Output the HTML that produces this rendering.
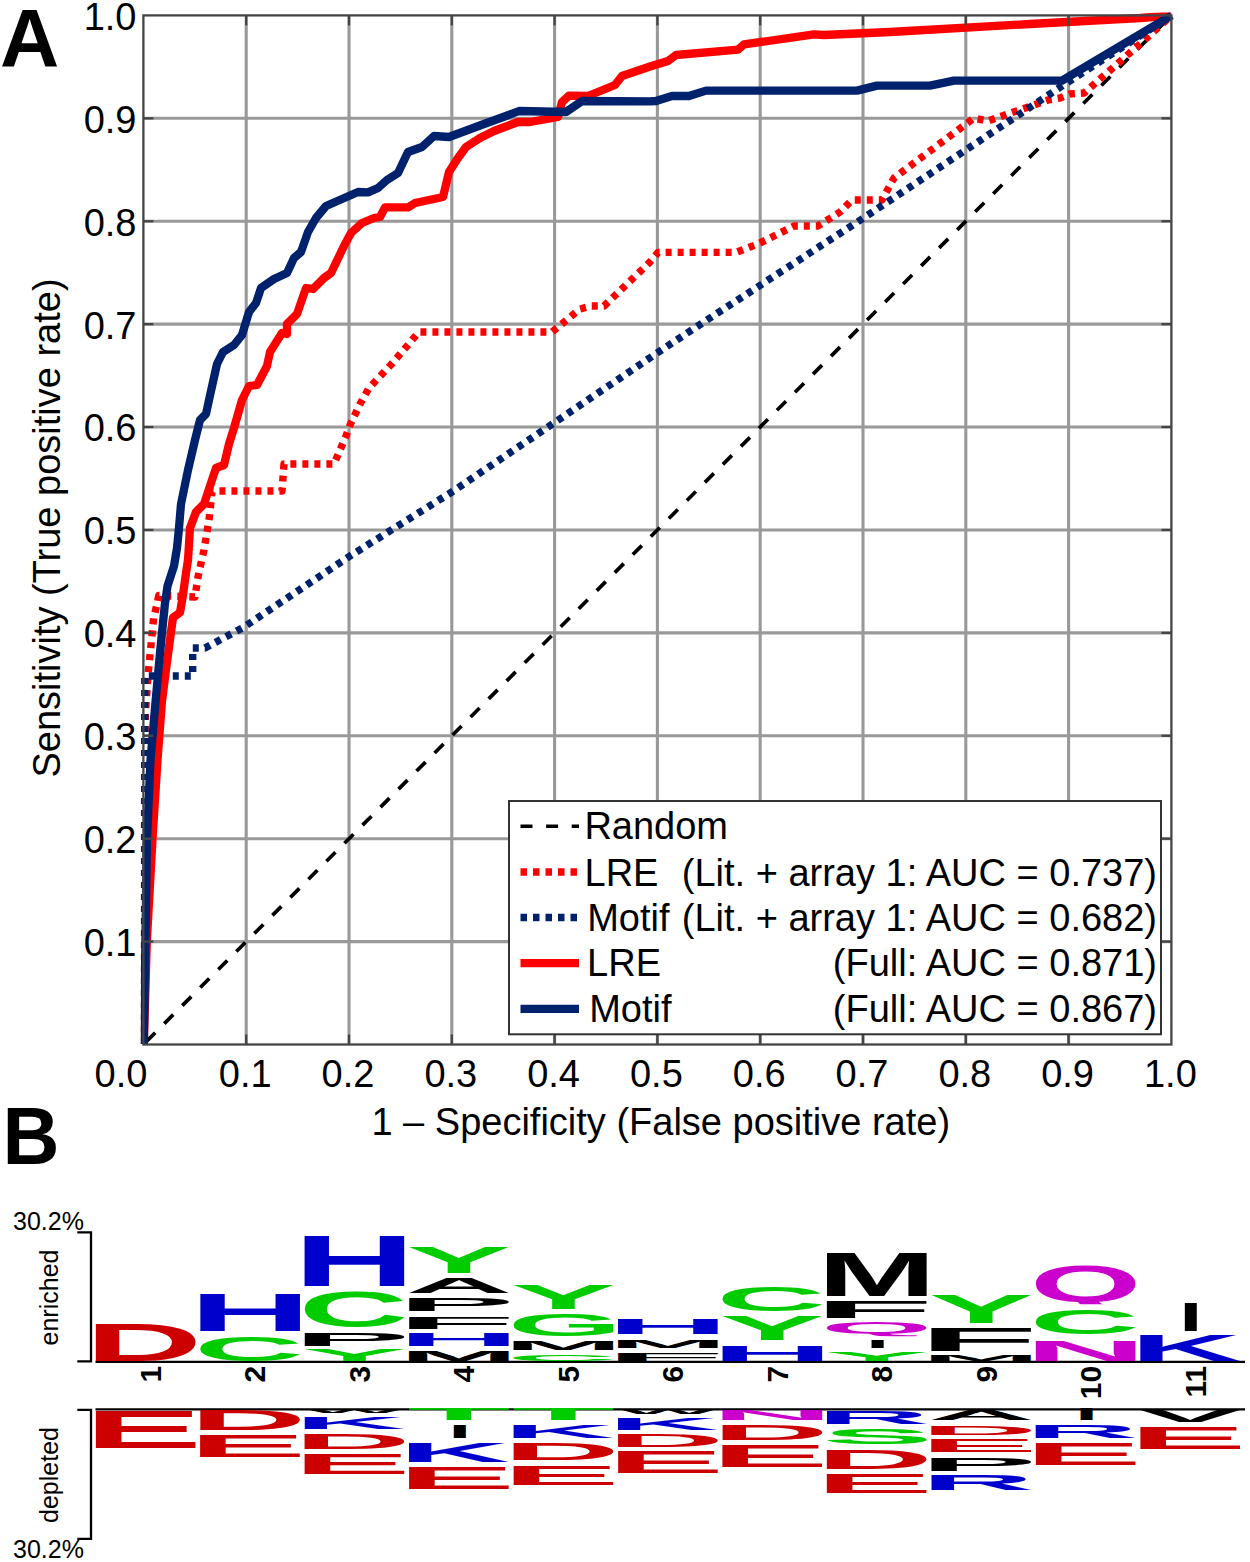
<!DOCTYPE html>
<html lang="en"><head><meta charset="utf-8"><title>ROC curves and iceLogo</title>
<style>html,body{margin:0;padding:0;background:#fff}body{width:1250px;height:1562px;overflow:hidden}svg{display:block}text{font-family:"Liberation Sans", Arial, Helvetica, sans-serif}</style>
</head><body>
<svg width="1250" height="1562" viewBox="0 0 1250 1562">
<rect x="0" y="0" width="1250" height="1562" fill="#ffffff"/>
<g stroke="#999999" stroke-width="3.1" fill="none">
<line x1="246.20" y1="15.40" x2="246.20" y2="1044.50"/>
<line x1="143.40" y1="941.59" x2="1171.40" y2="941.59"/>
<line x1="349.00" y1="15.40" x2="349.00" y2="1044.50"/>
<line x1="143.40" y1="838.68" x2="1171.40" y2="838.68"/>
<line x1="451.80" y1="15.40" x2="451.80" y2="1044.50"/>
<line x1="143.40" y1="735.77" x2="1171.40" y2="735.77"/>
<line x1="554.60" y1="15.40" x2="554.60" y2="1044.50"/>
<line x1="143.40" y1="632.86" x2="1171.40" y2="632.86"/>
<line x1="657.40" y1="15.40" x2="657.40" y2="1044.50"/>
<line x1="143.40" y1="529.95" x2="1171.40" y2="529.95"/>
<line x1="760.20" y1="15.40" x2="760.20" y2="1044.50"/>
<line x1="143.40" y1="427.04" x2="1171.40" y2="427.04"/>
<line x1="863.00" y1="15.40" x2="863.00" y2="1044.50"/>
<line x1="143.40" y1="324.13" x2="1171.40" y2="324.13"/>
<line x1="965.80" y1="15.40" x2="965.80" y2="1044.50"/>
<line x1="143.40" y1="221.22" x2="1171.40" y2="221.22"/>
<line x1="1068.60" y1="15.40" x2="1068.60" y2="1044.50"/>
<line x1="143.40" y1="118.31" x2="1171.40" y2="118.31"/>
</g>
<clipPath id="pc"><rect x="140.9" y="12.4" width="1033.5" height="1033.6"/></clipPath>
<g fill="none" stroke-linejoin="round" clip-path="url(#pc)">
<path d="M143.4,1044.5 L1171.4,15.4" stroke="#000" stroke-width="3.7" stroke-dasharray="12.7 12.8" stroke-dashoffset="-4"/>
<path d="M143.8,1044.0 L144.2,830.0 L144.7,760.0 L145.4,713.6 L148.0,675.0 L150.5,650.0 L153.7,617.6 L157.5,602.0 L158.8,595.5 L195.0,597.0 L198.0,577.0 L201.7,560.0 L204.0,550.0 L209.0,520.0 L212.0,492.0 L213.0,491.0 L282.0,491.0 L284.0,464.0 L334.0,464.0 L346.0,436.0 L350.0,425.0 L360.0,404.0 L369.0,388.0 L391.6,364.0 L410.8,341.6 L418.8,332.0 L552.0,332.0 L580.0,309.0 L591.0,306.0 L604.0,306.0 L650.0,262.0 L658.0,252.4 L736.0,252.4 L758.0,244.0 L794.0,226.0 L818.0,226.0 L840.0,212.0 L852.0,200.0 L882.0,200.0 L894.0,178.0 L902.0,172.0 L974.0,118.0 L988.0,121.0 L1048.0,100.0 L1060.0,98.0 L1070.0,94.0 L1084.0,93.0 L1140.0,44.0 L1171.5,15.5" stroke="#ff0000" stroke-width="7.4" stroke-dasharray="6 6"/>
<path d="M143.8,1044.0 L144.2,900.0 L144.6,760.0 L144.8,676.0 L192.7,676.0 L192.7,648.0 L205.0,648.0 L244.0,627.0 L350.0,556.0 L451.8,492.0 L553.2,423.5 L657.0,353.0 L710.0,318.0 L862.0,219.0 L1062.0,86.0 L1171.5,15.5" stroke="#00226c" stroke-width="7.4" stroke-dasharray="6 6"/>
<path d="M143.8,1044.0 L146.8,942.0 L152.5,839.0 L157.5,760.0 L162.0,701.0 L167.0,662.0 L171.0,632.0 L173.0,617.6 L180.0,612.5 L182.5,598.0 L186.0,573.0 L188.0,560.0 L190.0,528.0 L196.0,512.0 L204.0,504.0 L210.0,486.0 L216.0,468.0 L224.0,465.0 L229.0,444.0 L234.0,428.0 L242.0,400.0 L249.0,386.0 L257.0,385.0 L267.0,366.0 L270.0,352.0 L282.0,333.0 L287.0,334.0 L287.0,324.0 L297.0,314.0 L306.0,288.0 L313.0,289.0 L324.0,278.0 L331.0,273.0 L344.0,246.0 L351.0,233.0 L362.0,223.0 L374.0,218.0 L380.0,217.0 L385.0,207.4 L408.0,207.4 L415.0,203.0 L443.0,197.0 L449.0,172.0 L458.0,158.0 L466.0,147.0 L480.0,138.0 L494.0,131.0 L518.0,122.0 L530.0,122.0 L558.0,117.0 L562.0,102.0 L569.0,95.6 L588.0,96.0 L615.0,85.0 L622.0,76.0 L650.0,66.5 L668.0,61.0 L676.0,55.0 L738.0,49.6 L744.0,44.4 L814.0,34.4 L824.0,35.0 L890.0,32.0 L1030.0,24.0 L1140.0,18.0 L1171.5,15.5" stroke="#ff0000" stroke-width="8.3"/>
<path d="M143.8,1044.0 L145.4,942.0 L147.0,839.0 L150.5,760.0 L155.6,701.0 L160.3,650.0 L164.8,605.0 L167.5,586.0 L174.0,566.0 L177.0,548.0 L179.0,528.0 L181.0,504.0 L188.0,470.0 L195.0,440.0 L200.0,420.0 L206.0,414.0 L209.0,400.0 L217.0,364.0 L223.0,352.0 L234.0,345.0 L242.0,335.0 L249.0,312.0 L256.0,303.0 L261.0,288.0 L274.0,279.0 L287.0,273.0 L294.0,258.0 L301.0,252.0 L308.0,232.0 L316.0,218.0 L326.0,206.0 L342.0,199.0 L358.0,192.0 L368.0,192.4 L378.0,188.0 L387.0,180.0 L398.0,173.0 L408.0,152.0 L422.0,147.0 L434.0,136.0 L449.0,137.0 L484.0,124.0 L506.0,116.0 L519.0,111.0 L566.0,112.0 L582.0,101.0 L650.0,101.4 L656.0,101.0 L672.0,96.0 L689.0,96.0 L706.0,90.6 L857.0,90.6 L877.0,85.6 L930.0,85.6 L954.0,80.6 L1062.0,80.6 L1171.5,15.5" stroke="#00226c" stroke-width="8.3"/>
</g>
<g stroke="#454545" stroke-width="2.3" fill="none">
<rect x="143.40" y="15.40" width="1028.00" height="1029.10"/>
<line x1="246.20" y1="1044.50" x2="246.20" y2="1034.50"/>
<line x1="246.20" y1="15.40" x2="246.20" y2="25.40"/>
<line x1="143.40" y1="941.59" x2="153.40" y2="941.59"/>
<line x1="1171.40" y1="941.59" x2="1161.40" y2="941.59"/>
<line x1="349.00" y1="1044.50" x2="349.00" y2="1034.50"/>
<line x1="349.00" y1="15.40" x2="349.00" y2="25.40"/>
<line x1="143.40" y1="838.68" x2="153.40" y2="838.68"/>
<line x1="1171.40" y1="838.68" x2="1161.40" y2="838.68"/>
<line x1="451.80" y1="1044.50" x2="451.80" y2="1034.50"/>
<line x1="451.80" y1="15.40" x2="451.80" y2="25.40"/>
<line x1="143.40" y1="735.77" x2="153.40" y2="735.77"/>
<line x1="1171.40" y1="735.77" x2="1161.40" y2="735.77"/>
<line x1="554.60" y1="1044.50" x2="554.60" y2="1034.50"/>
<line x1="554.60" y1="15.40" x2="554.60" y2="25.40"/>
<line x1="143.40" y1="632.86" x2="153.40" y2="632.86"/>
<line x1="1171.40" y1="632.86" x2="1161.40" y2="632.86"/>
<line x1="657.40" y1="1044.50" x2="657.40" y2="1034.50"/>
<line x1="657.40" y1="15.40" x2="657.40" y2="25.40"/>
<line x1="143.40" y1="529.95" x2="153.40" y2="529.95"/>
<line x1="1171.40" y1="529.95" x2="1161.40" y2="529.95"/>
<line x1="760.20" y1="1044.50" x2="760.20" y2="1034.50"/>
<line x1="760.20" y1="15.40" x2="760.20" y2="25.40"/>
<line x1="143.40" y1="427.04" x2="153.40" y2="427.04"/>
<line x1="1171.40" y1="427.04" x2="1161.40" y2="427.04"/>
<line x1="863.00" y1="1044.50" x2="863.00" y2="1034.50"/>
<line x1="863.00" y1="15.40" x2="863.00" y2="25.40"/>
<line x1="143.40" y1="324.13" x2="153.40" y2="324.13"/>
<line x1="1171.40" y1="324.13" x2="1161.40" y2="324.13"/>
<line x1="965.80" y1="1044.50" x2="965.80" y2="1034.50"/>
<line x1="965.80" y1="15.40" x2="965.80" y2="25.40"/>
<line x1="143.40" y1="221.22" x2="153.40" y2="221.22"/>
<line x1="1171.40" y1="221.22" x2="1161.40" y2="221.22"/>
<line x1="1068.60" y1="1044.50" x2="1068.60" y2="1034.50"/>
<line x1="1068.60" y1="15.40" x2="1068.60" y2="25.40"/>
<line x1="143.40" y1="118.31" x2="153.40" y2="118.31"/>
<line x1="1171.40" y1="118.31" x2="1161.40" y2="118.31"/>
</g>
<g font-size="38" fill="#000">
<text x="136.5" y="956.0" text-anchor="end">0.1</text>
<text x="136.5" y="853.1" text-anchor="end">0.2</text>
<text x="136.5" y="750.2" text-anchor="end">0.3</text>
<text x="136.5" y="647.3" text-anchor="end">0.4</text>
<text x="136.5" y="544.4" text-anchor="end">0.5</text>
<text x="136.5" y="441.4" text-anchor="end">0.6</text>
<text x="136.5" y="338.5" text-anchor="end">0.7</text>
<text x="136.5" y="235.6" text-anchor="end">0.8</text>
<text x="136.5" y="132.7" text-anchor="end">0.9</text>
<text x="136.5" y="29.8" text-anchor="end">1.0</text>
<text x="121.0" y="1086.8" text-anchor="middle">0.0</text>
<text x="245.2" y="1086.8" text-anchor="middle">0.1</text>
<text x="348.0" y="1086.8" text-anchor="middle">0.2</text>
<text x="450.8" y="1086.8" text-anchor="middle">0.3</text>
<text x="553.6" y="1086.8" text-anchor="middle">0.4</text>
<text x="656.4" y="1086.8" text-anchor="middle">0.5</text>
<text x="759.2" y="1086.8" text-anchor="middle">0.6</text>
<text x="862.0" y="1086.8" text-anchor="middle">0.7</text>
<text x="964.8" y="1086.8" text-anchor="middle">0.8</text>
<text x="1067.6" y="1086.8" text-anchor="middle">0.9</text>
<text x="1170.4" y="1086.8" text-anchor="middle">1.0</text>
<text x="660.75" y="1135" text-anchor="middle">1 – Specificity (False positive rate)</text>
<text transform="translate(59.8,528) rotate(-90)" text-anchor="middle">Sensitivity (True positive rate)</text>
</g>
<text x="0" y="66.3" font-size="82" font-weight="bold" fill="#000">A</text>
<text transform="translate(2.6,1164.2) scale(0.962,1)" font-size="82" font-weight="bold" fill="#000">B</text>
<rect x="509" y="801" width="652" height="233.3" fill="#fff" stroke="#333" stroke-width="2"/>
<g fill="none">
<line x1="520.5" x2="579" y1="826.3" y2="826.3" stroke="#000" stroke-width="3.6" stroke-dasharray="12 13.6"/>
<line x1="520.5" x2="579" y1="872.0" y2="872.0" stroke="#ff0000" stroke-width="7.5" stroke-dasharray="6.5 6"/>
<line x1="520.5" x2="579" y1="917.5" y2="917.5" stroke="#00226c" stroke-width="7.5" stroke-dasharray="6.5 6"/>
<line x1="520.5" x2="579" y1="963.2" y2="963.2" stroke="#ff0000" stroke-width="8.3"/>
<line x1="520.5" x2="579" y1="1008.8" y2="1008.8" stroke="#00226c" stroke-width="8.3"/>
</g>
<g font-size="38" fill="#000">
<text x="584.4" y="838.6">Random</text>
<text x="584.5" y="885.9">LRE</text>
<text x="1157" y="885.9" text-anchor="end">(Lit. + array 1: AUC = 0.737)</text>
<text x="587.2" y="931.0">Motif</text>
<text x="1157" y="931.0" text-anchor="end">(Lit. + array 1: AUC = 0.682)</text>
<text x="587.1" y="976.0">LRE</text>
<text x="1157" y="976.0" text-anchor="end">(Full: AUC = 0.871)</text>
<text x="589.2" y="1021.8">Motif</text>
<text x="1157" y="1021.8" text-anchor="end">(Full: AUC = 0.867)</text>
</g>
<g stroke="#000" stroke-width="2.3" fill="none">
<path d="M77.3,1232.4 H91 V1361.3 H77.3"/>
<path d="M77.3,1409.9 H91 V1538.8 H77.3"/>
<path d="M95.5,1361.8 H1245 M95.5,1409.4 H1245" stroke-width="2.2"/>
</g>
<g font-size="25" fill="#000">
<text x="13" y="1229.5">30.2%</text>
<text x="13" y="1558">30.2%</text>
<text transform="translate(57.5,1297.5) rotate(-90)" text-anchor="middle">enriched</text>
<text transform="translate(57.5,1475) rotate(-90)" text-anchor="middle">depleted</text>
</g>
<g font-size="30" font-weight="bold" fill="#000">
<text transform="translate(161.0,1365.8) rotate(-90)" text-anchor="end">1</text>
<text transform="translate(265.4,1365.8) rotate(-90)" text-anchor="end">2</text>
<text transform="translate(369.9,1365.8) rotate(-90)" text-anchor="end">3</text>
<text transform="translate(474.4,1365.8) rotate(-90)" text-anchor="end">4</text>
<text transform="translate(578.8,1365.8) rotate(-90)" text-anchor="end">5</text>
<text transform="translate(683.2,1365.8) rotate(-90)" text-anchor="end">6</text>
<text transform="translate(787.7,1365.8) rotate(-90)" text-anchor="end">7</text>
<text transform="translate(892.1,1365.8) rotate(-90)" text-anchor="end">8</text>
<text transform="translate(996.6,1365.8) rotate(-90)" text-anchor="end">9</text>
<text transform="translate(1101.1,1365.8) rotate(-90)" text-anchor="end">10</text>
<text transform="translate(1205.5,1365.8) rotate(-90)" text-anchor="end">11</text>
</g>
<g font-size="100" font-weight="bold">
<text transform="matrix(1.6240,0,0,0.5422,84.94,1360.90)" fill="#cc0000">D</text>
<text transform="matrix(1.5234,0,0,0.3460,194.00,1360.56)" fill="#00cc00">C</text>
<text transform="matrix(1.6942,0,0,0.5320,188.92,1331.20)" fill="#0000cc">H</text>
<text transform="matrix(1.5715,0,0,0.1642,302.01,1360.90)" fill="#00cc00">Y</text>
<text transform="matrix(1.7600,0,0,0.1875,292.93,1345.60)" fill="#000000">P</text>
<text transform="matrix(1.5234,0,0,0.5071,298.45,1326.90)" fill="#00cc00">C</text>
<text transform="matrix(1.6942,0,0,0.7151,293.37,1286.20)" fill="#0000cc">H</text>
<text transform="matrix(1.4245,0,0,0.1381,399.62,1360.90)" fill="#000000">M</text>
<text transform="matrix(1.6942,0,0,0.1788,397.82,1346.40)" fill="#0000cc">H</text>
<text transform="matrix(1.9633,0,0,0.1744,396.02,1328.50)" fill="#000000">F</text>
<text transform="matrix(1.7600,0,0,0.1919,397.38,1311.20)" fill="#000000">P</text>
<text transform="matrix(1.4846,0,0,0.2253,405.45,1293.30)" fill="#000000">A</text>
<text transform="matrix(1.5715,0,0,0.3765,406.46,1272.90)" fill="#00cc00">Y</text>
<text transform="matrix(1.5234,0,0,0.0918,507.35,1360.81)" fill="#00cc00">C</text>
<text transform="matrix(1.4245,0,0,0.1279,504.07,1349.60)" fill="#000000">M</text>
<text transform="matrix(1.4760,0,0,0.3079,507.55,1335.90)" fill="#00cc00">G</text>
<text transform="matrix(1.5715,0,0,0.3503,510.91,1308.60)" fill="#00cc00">Y</text>
<text transform="matrix(1.9633,0,0,0.1134,604.92,1360.90)" fill="#000000">F</text>
<text transform="matrix(1.4245,0,0,0.1148,608.52,1348.20)" fill="#000000">M</text>
<text transform="matrix(1.6942,0,0,0.2253,606.72,1333.80)" fill="#0000cc">H</text>
<text transform="matrix(1.6942,0,0,0.2224,711.17,1360.90)" fill="#0000cc">H</text>
<text transform="matrix(1.5715,0,0,0.3590,719.81,1340.30)" fill="#00cc00">Y</text>
<text transform="matrix(1.5234,0,0,0.3602,716.25,1310.55)" fill="#00cc00">C</text>
<text transform="matrix(1.5715,0,0,0.1206,824.26,1360.90)" fill="#00cc00">Y</text>
<text transform="matrix(0.8333,0,0,0.1017,865.97,1348.20)" fill="#000000">I</text>
<clipPath id="q1"><rect x="824.9" y="1321.2" width="103.6" height="15.0"/></clipPath>
<g clip-path="url(#q1)"><text transform="matrix(1.4335,0,0,0.1610,821.07,1334.44)" fill="#cc00cc">Q</text></g>
<text transform="matrix(1.9633,0,0,0.2427,813.82,1317.90)" fill="#000000">F</text>
<text transform="matrix(1.4245,0,0,0.6265,817.42,1295.90)" fill="#000000">M</text>
<text transform="matrix(1.4245,0,0,0.0828,921.87,1360.90)" fill="#000000">M</text>
<text transform="matrix(1.9633,0,0,0.3314,918.27,1350.80)" fill="#000000">F</text>
<text transform="matrix(1.5715,0,0,0.4099,928.71,1322.70)" fill="#00cc00">Y</text>
<text transform="matrix(1.6942,0,0,0.2994,1024.52,1360.90)" fill="#cc00cc">N</text>
<text transform="matrix(1.5234,0,0,0.3460,1029.60,1334.16)" fill="#00cc00">C</text>
<clipPath id="q2"><rect x="1033.9" y="1264.4" width="103.6" height="39.8"/></clipPath>
<g clip-path="url(#q2)"><text transform="matrix(1.4335,0,0,0.5113,1029.97,1302.10)" fill="#cc00cc">Q</text></g>
<text transform="matrix(1.5418,0,0,0.3692,1129.99,1360.90)" fill="#0000cc">K</text>
<text transform="matrix(0.8333,0,0,0.4041,1179.32,1331.10)" fill="#000000">I</text>
<text transform="matrix(1.7754,0,0,0.5320,83.92,1447.50)" fill="#cc0000">E</text>
<text transform="matrix(1.6240,0,0,0.2994,189.39,1430.30)" fill="#cc0000">D</text>
<text transform="matrix(1.7754,0,0,0.3081,188.37,1457.20)" fill="#cc0000">E</text>
<text transform="matrix(1.0574,0,0,0.0538,304.59,1413.40)" fill="#000000">W</text>
<text transform="matrix(1.5418,0,0,0.1715,294.39,1429.00)" fill="#0000cc">K</text>
<text transform="matrix(1.6240,0,0,0.2253,293.84,1448.90)" fill="#cc0000">D</text>
<text transform="matrix(1.7754,0,0,0.2892,292.82,1473.60)" fill="#cc0000">E</text>
<text transform="matrix(1.6913,0,0,0.1599,407.26,1420.20)" fill="#00cc00">T</text>
<text transform="matrix(0.8333,0,0,0.1802,448.18,1438.40)" fill="#000000">I</text>
<text transform="matrix(1.5418,0,0,0.2791,398.84,1462.00)" fill="#0000cc">K</text>
<text transform="matrix(1.7754,0,0,0.3140,397.27,1488.50)" fill="#cc0000">E</text>
<text transform="matrix(1.6913,0,0,0.1599,511.71,1420.20)" fill="#00cc00">T</text>
<text transform="matrix(1.5418,0,0,0.1788,503.29,1437.80)" fill="#0000cc">K</text>
<text transform="matrix(1.6240,0,0,0.2471,502.74,1459.80)" fill="#cc0000">D</text>
<text transform="matrix(1.7754,0,0,0.2820,501.72,1484.50)" fill="#cc0000">E</text>
<text transform="matrix(1.0574,0,0,0.0683,617.94,1414.40)" fill="#000000">W</text>
<text transform="matrix(1.5418,0,0,0.1613,607.74,1429.60)" fill="#0000cc">K</text>
<text transform="matrix(1.6240,0,0,0.1831,607.19,1446.60)" fill="#cc0000">D</text>
<text transform="matrix(1.7754,0,0,0.3067,606.17,1472.50)" fill="#cc0000">E</text>
<text transform="matrix(1.6942,0,0,0.1526,711.17,1420.20)" fill="#cc00cc">N</text>
<text transform="matrix(1.6240,0,0,0.2122,711.64,1440.10)" fill="#cc0000">D</text>
<text transform="matrix(1.7754,0,0,0.3067,710.62,1466.50)" fill="#cc0000">E</text>
<text transform="matrix(1.5690,0,0,0.1875,816.45,1423.80)" fill="#0000cc">R</text>
<text transform="matrix(1.6625,0,0,0.2232,822.16,1443.78)" fill="#00cc00">S</text>
<text transform="matrix(1.6240,0,0,0.2674,816.09,1468.60)" fill="#cc0000">D</text>
<text transform="matrix(1.7754,0,0,0.2762,815.07,1492.90)" fill="#cc0000">E</text>
<text transform="matrix(1.4846,0,0,0.1453,927.70,1419.70)" fill="#000000">A</text>
<text transform="matrix(1.6240,0,0,0.1352,920.54,1434.80)" fill="#cc0000">D</text>
<text transform="matrix(1.7754,0,0,0.1788,919.52,1452.40)" fill="#cc0000">E</text>
<text transform="matrix(1.7600,0,0,0.1831,919.63,1470.70)" fill="#000000">P</text>
<text transform="matrix(1.5690,0,0,0.2122,920.90,1490.30)" fill="#0000cc">R</text>
<text transform="matrix(0.8333,0,0,0.1657,1074.88,1420.20)" fill="#000000">I</text>
<text transform="matrix(1.5690,0,0,0.1875,1025.35,1438.40)" fill="#0000cc">R</text>
<text transform="matrix(1.7754,0,0,0.3125,1023.97,1465.10)" fill="#cc0000">E</text>
<text transform="matrix(1.5243,0,0,0.1715,1139.26,1421.50)" fill="#000000">V</text>
<text transform="matrix(1.7754,0,0,0.3212,1128.42,1448.90)" fill="#cc0000">E</text>
</g>
</svg></body></html>
